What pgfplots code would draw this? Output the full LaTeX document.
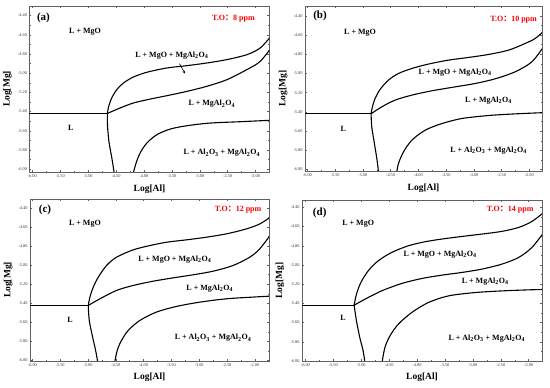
\documentclass[border=0pt]{standalone}
\usepackage{fontspec}
\setmainfont{Liberation Serif}
\newfontfamily\cjk{Noto Sans CJK SC}
\usepackage{pgfplots}
\pgfplotsset{compat=1.18}
\usetikzlibrary{arrows.meta}
\newcommand{\lab}{\fontsize{8}{9}\selectfont\bfseries}
\newcommand{\spn}{MgAl\textsubscript{2}O\textsubscript{4}}
\tikzset{cv/.style={black, line width=1.1pt, smooth, mark=none}}
\pgfplotsset{pan/.style={
  scale only axis, clip mode=individual,
  axis line style={gray!75!black, line width=0.4pt},
  tick style={gray!75!black, line width=0.3pt},
  major tick length=2pt, minor tick length=1.2pt, tick align=inside,
  xtick={-6,-5.5,...,-2}, ytick={-6,-5.8,...,-4.3},
  minor x tick num=1, minor y tick num=1,
  ticklabel style={font=\fontsize{4.3}{5}\selectfont, text=black!80},
  xticklabel style={yshift=1pt}, yticklabel style={xshift=1pt},
  /pgf/number format/.cd, fixed, fixed zerofill, precision=2, assume math mode=true,
  /pgfplots/.cd,
  xlabel={Log[Al]}, ylabel={Log[Mg]},
  label style={font=\fontsize{9.5}{10}\selectfont\bfseries},
  xlabel style={at={(axis description cs:0.5,-0.102)}, anchor=center},
  ylabel style={at={(axis description cs:-0.092,0.5)}, anchor=center},
}}
\begin{document}
\begin{tikzpicture}
\path[use as bounding box] (0,0) rectangle (550pt,388pt);
% ---------------- (a)
\begin{axis}[pan, at={(29.5pt,216pt)}, anchor=south west, width=240pt, height=166pt,
  xmin=-6.05, xmax=-1.75, ymin=-6.03, ymax=-4.30]
\addplot[cv] coordinates {(-6.10,-5.42) (-4.655,-5.42)};
\addplot[cv] coordinates {(-4.655,-5.42) (-4.631,-5.346) (-4.577,-5.259) (-4.487,-5.172) (-4.368,-5.103) (-4.188,-5.040) (-3.949,-4.991) (-3.590,-4.946) (-3.232,-4.922) (-2.873,-4.894) (-2.514,-4.859) (-2.155,-4.807) (-1.916,-4.737) (-1.70,-4.60)};
\addplot[cv] coordinates {(-4.655,-5.42) (-4.427,-5.363) (-4.188,-5.311) (-3.889,-5.270) (-3.590,-5.235) (-3.232,-5.190) (-2.873,-5.137) (-2.514,-5.068) (-2.155,-4.963) (-1.916,-4.877) (-1.70,-4.72)};
\addplot[cv] coordinates {(-4.655,-5.42) (-4.652,-5.55) (-4.625,-5.72) (-4.57,-5.90) (-4.53,-6.05)};
\addplot[cv] coordinates {(-4.20,-6.06) (-4.140,-5.937) (-4.069,-5.833) (-3.949,-5.729) (-3.770,-5.642) (-3.531,-5.583) (-3.232,-5.548) (-2.813,-5.520) (-2.275,-5.506) (-1.70,-5.490)};
\node[font=\fontsize{11}{12}\selectfont\bfseries] at (axis cs:-5.80,-4.424) {(a)};
\node[font=\lab, text=red] at (axis cs:-2.395,-4.431) {T.O{\cjk ：}8 ppm};
\node[font=\lab] at (axis cs:-5.055,-4.570) {L + MgO};
\node[font=\lab] at (axis cs:-3.50,-4.812) {L + MgO + \spn};
\draw[black, line width=0.6pt, -{Stealth[length=3pt,width=2.5pt]}] (axis cs:-3.363,-4.901) -- (axis cs:-3.262,-5.005);
\node[font=\lab] at (axis cs:-2.783,-5.322) {L + \spn};
\node[font=\lab] at (axis cs:-5.312,-5.572) {L};
\node[font=\lab] at (axis cs:-2.604,-5.833) {L + Al\textsubscript{2}O\textsubscript{3} + \spn};
\end{axis}
% ---------------- (b)
\begin{axis}[pan, at={(305pt,217pt)}, anchor=south west, width=237pt, height=165pt,
  xmin=-6.042, xmax=-1.771, ymin=-6.015, ymax=-4.299]
\addplot[cv] coordinates {(-6.10,-5.42) (-4.851,-5.42)};
\addplot[cv] coordinates {(-4.851,-5.42) (-4.827,-5.348) (-4.779,-5.261) (-4.689,-5.167) (-4.538,-5.070) (-4.358,-5.001) (-4.117,-4.949) (-3.817,-4.903) (-3.456,-4.862) (-3.095,-4.834) (-2.734,-4.803) (-2.373,-4.758) (-2.072,-4.688) (-1.892,-4.636) (-1.74,-4.56)};
\addplot[cv] coordinates {(-4.851,-5.42) (-4.659,-5.348) (-4.418,-5.278) (-4.117,-5.226) (-3.756,-5.181) (-3.335,-5.140) (-2.974,-5.105) (-2.613,-5.056) (-2.253,-4.983) (-1.952,-4.879) (-1.74,-4.72)};
\addplot[cv] coordinates {(-4.851,-5.42) (-4.839,-5.556) (-4.791,-5.730) (-4.743,-5.903) (-4.715,-6.04)};
\addplot[cv] coordinates {(-4.392,-6.04) (-4.358,-5.938) (-4.268,-5.817) (-4.117,-5.695) (-3.877,-5.591) (-3.576,-5.522) (-3.215,-5.469) (-2.734,-5.438) (-2.253,-5.421) (-1.74,-5.408)};
\node[font=\fontsize{11}{12}\selectfont\bfseries] at (axis cs:-5.771,-4.403) {(b)};
\node[font=\lab, text=red] at (axis cs:-2.283,-4.438) {T.O{\cjk ：}10 ppm};
\node[font=\lab] at (axis cs:-5.050,-4.574) {L + MgO};
\node[font=\lab] at (axis cs:-3.335,-4.994) {L + MgO + \spn};
\node[font=\lab] at (axis cs:-2.734,-5.278) {L + \spn};
\node[font=\lab] at (axis cs:-5.350,-5.574) {L};
\node[font=\lab] at (axis cs:-2.734,-5.799) {L + Al\textsubscript{2}O\textsubscript{3} + \spn};
\end{axis}
% ---------------- (c)
\begin{axis}[pan, at={(30pt,27pt)}, anchor=south west, width=239pt, height=162pt,
  xmin=-6.042, xmax=-1.743, ymin=-6.007, ymax=-4.306]
\addplot[cv] coordinates {(-6.10,-5.424) (-4.994,-5.424)};
\addplot[cv] coordinates {(-4.994,-5.424) (-4.964,-5.336) (-4.904,-5.231) (-4.814,-5.127) (-4.665,-5.004) (-4.485,-4.917) (-4.186,-4.840) (-3.886,-4.795) (-3.587,-4.760) (-3.228,-4.735) (-2.868,-4.707) (-2.509,-4.672) (-2.150,-4.620) (-1.910,-4.568) (-1.70,-4.49)};
\addplot[cv] coordinates {(-4.994,-5.424) (-4.784,-5.354) (-4.485,-5.266) (-4.186,-5.214) (-3.826,-5.169) (-3.467,-5.134) (-3.108,-5.102) (-2.749,-5.064) (-2.389,-5.004) (-2.090,-4.917) (-1.910,-4.830) (-1.70,-4.67)};
\addplot[cv] coordinates {(-4.994,-5.424) (-4.976,-5.581) (-4.916,-5.755) (-4.862,-5.895) (-4.820,-6.03)};
\addplot[cv] coordinates {(-4.520,-6.03) (-4.473,-5.895) (-4.395,-5.790) (-4.275,-5.686) (-4.066,-5.581) (-3.766,-5.493) (-3.407,-5.434) (-2.988,-5.389) (-2.509,-5.354) (-2.030,-5.336) (-1.70,-5.325)};
\node[font=\fontsize{11}{12}\selectfont\bfseries] at (axis cs:-5.772,-4.421) {(c)};
\node[font=\lab, text=red] at (axis cs:-2.299,-4.421) {T.O{\cjk ：}12 ppm};
\node[font=\lab] at (axis cs:-5.054,-4.568) {L + MgO};
\node[font=\lab] at (axis cs:-3.437,-4.941) {L + MgO + \spn};
\node[font=\lab] at (axis cs:-2.808,-5.242) {L + \spn};
\node[font=\lab] at (axis cs:-5.323,-5.574) {L};
\node[font=\lab] at (axis cs:-2.749,-5.766) {L + Al\textsubscript{2}O\textsubscript{3} + \spn};
\end{axis}
% ---------------- (d)
\begin{axis}[pan, at={(302pt,27pt)}, anchor=south west, width=240pt, height=161pt,
  xmin=-6.06, xmax=-1.76, ymin=-6.00, ymax=-4.323]
\addplot[cv] coordinates {(-6.10,-5.419) (-5.126,-5.419)};
\addplot[cv] coordinates {(-5.126,-5.419) (-5.084,-5.304) (-5.006,-5.183) (-4.874,-5.061) (-4.695,-4.957) (-4.455,-4.870) (-4.156,-4.800) (-3.856,-4.758) (-3.557,-4.730) (-3.198,-4.703) (-2.838,-4.678) (-2.479,-4.650) (-2.180,-4.609) (-1.940,-4.546) (-1.70,-4.44)};
\addplot[cv] coordinates {(-5.126,-5.419) (-4.934,-5.357) (-4.635,-5.270) (-4.275,-5.193) (-3.916,-5.141) (-3.557,-5.106) (-3.198,-5.078) (-2.838,-5.043) (-2.479,-4.991) (-2.180,-4.922) (-1.940,-4.817) (-1.70,-4.64)};
\addplot[cv] coordinates {(-5.126,-5.419) (-5.084,-5.583) (-5.024,-5.757) (-4.964,-5.896) (-4.930,-6.03)};
\addplot[cv] coordinates {(-4.630,-6.03) (-4.575,-5.861) (-4.485,-5.739) (-4.335,-5.617) (-4.096,-5.496) (-3.796,-5.391) (-3.437,-5.322) (-2.958,-5.287) (-2.479,-5.270) (-2.000,-5.259) (-1.70,-5.255)};
\node[font=\fontsize{11}{12}\selectfont\bfseries] at (axis cs:-5.743,-4.452) {(d)};
\node[font=\lab, text=red] at (axis cs:-2.329,-4.428) {T.O{\cjk ：}14 ppm};
\node[font=\lab] at (axis cs:-5.054,-4.567) {L + MgO};
\node[font=\lab] at (axis cs:-3.587,-4.887) {L + MgO + \spn};
\node[font=\lab] at (axis cs:-2.778,-5.176) {L + \spn};
\node[font=\lab] at (axis cs:-5.323,-5.555) {L};
\node[font=\lab] at (axis cs:-2.749,-5.763) {L + Al\textsubscript{2}O\textsubscript{3} + \spn};
\end{axis}
\end{tikzpicture}
\end{document}
